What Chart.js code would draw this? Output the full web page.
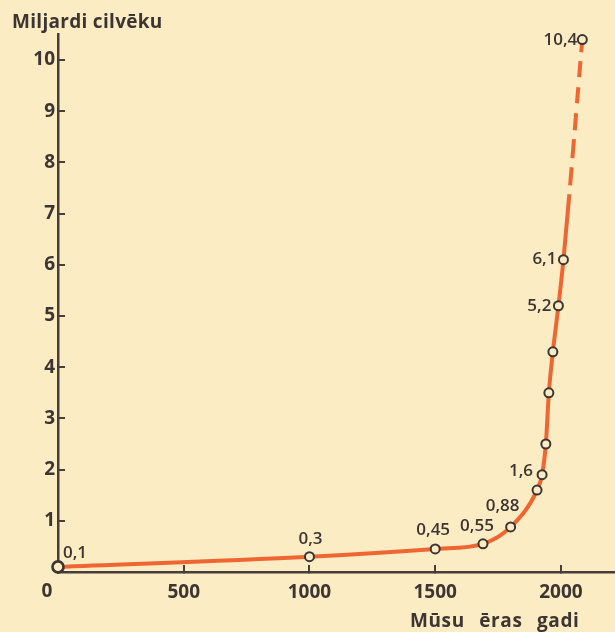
<!DOCTYPE html>
<html>
<head>
<meta charset="utf-8">
<script src="https://cdn.jsdelivr.net/npm/chart.js@4.4.1/dist/chart.umd.min.js"></script>
<style>
  html, body { margin: 0; padding: 0; background: #fbecc4; }
  #wrap { width: 615px; height: 632px; position: relative; }
</style>
</head>
<body>
<div id="wrap"><canvas id="c" width="615" height="632"></canvas></div>
<script>
// World population, billions of people, by year of the Common Era
const years = [0, 1000, 1500, 1690, 1800, 1905, 1925, 1940, 1952, 1968, 1990, 2010, 2085];
const population = [0.1, 0.3, 0.45, 0.55, 0.88, 1.6, 1.9, 2.5, 3.5, 4.3, 5.2, 6.1, 10.4];
const pointNotes = ['0,1', '0,3', '0,45', '0,55', '0,88', '1,6', '', '', '', '', '5,2', '6,1', '10,4'];
const xTicks = [0, 500, 1000, 1500, 2000];
const yTicks = [0, 1, 2, 3, 4, 5, 6, 7, 8, 9, 10];
const yTitle = 'Miljardi cilvēku';
const xTitle = 'Mūsu ēras gadi';

const PAPER = '#fbecc4';
const INK = '#3d3532';
const AXIS = '#473d39';
const ORANGE = '#ef6632';
const FONT = '"Open Sans", "DejaVu Sans", sans-serif';

// where each note sits relative to its circle
const notePlacement = {
  0: { align: 'left', dx: 5, dy: -14 },
  1: { align: 'center', dx: 1, dy: -17 },
  2: { align: 'center', dx: -2, dy: -19 },
  3: { align: 'center', dx: -6, dy: -18 },
  4: { align: 'center', dx: -8, dy: -21 },
  5: { align: 'right', dx: -4, dy: -19 },
  10: { align: 'right', dx: -7, dy: 0 },
  11: { align: 'right', dx: -7, dy: -1 },
  12: { align: 'right', dx: -5, dy: 1 }
};

// the forecast stretch: a solid run, then dashes
const forecastDash = [66, 9, 18, 9, 19, 9, 17, 10, 16, 10, 16, 9, 16, 40];
const lastIndex = years.length - 1;

const paperPlugin = {
  id: 'paper',
  beforeDraw(chart) {
    const c = chart.ctx;
    c.save();
    c.fillStyle = PAPER;
    c.fillRect(0, 0, chart.width, chart.height);
    c.restore();
  }
};

const notesPlugin = {
  id: 'notes',
  afterDatasetsDraw(chart) {
    const meta = chart.getDatasetMeta(0);
    const c = chart.ctx;
    c.save();
    c.font = '600 17px ' + FONT;
    c.fillStyle = INK;
    c.textBaseline = 'middle';
    pointNotes.forEach((txt, i) => {
      if (!txt) return;
      const p = meta.data[i];
      const pl = notePlacement[i];
      c.textAlign = pl.align;
      c.fillText(txt, p.x + pl.dx, p.y + pl.dy);
    });
    c.restore();
  },
  afterDraw(chart) {
    const c = chart.ctx;
    const xs = chart.scales.x;
    c.save();
    c.fillStyle = INK;
    c.textBaseline = 'alphabetic';
    c.textAlign = 'left';
    c.font = '700 19px ' + FONT;
    c.letterSpacing = '0.3px';
    c.fillText(yTitle, 12, 28);
    c.letterSpacing = '0.6px';
    c.wordSpacing = '9px';
    c.fillText(xTitle, 410, 627);
    c.letterSpacing = '0px';
    c.wordSpacing = '0px';
    // origin label, set off to the left of the vertical axis
    c.textAlign = 'center';
    c.fillText('0', xs.getPixelForValue(0) - 11, 597);
    c.restore();
  }
};

new Chart(document.getElementById('c'), {
  type: 'line',
  data: {
    datasets: [{
      data: years.map((y, i) => ({ x: y, y: population[i] })),
      borderColor: ORANGE,
      borderWidth: 4,
      borderCapStyle: 'butt',
      borderJoinStyle: 'round',
      cubicInterpolationMode: 'monotone',
      fill: false,
      clip: false,
      pointRadius: ctx => ctx.dataIndex === 0 ? 5.5 : 4.5,
      pointBorderWidth: ctx => ctx.dataIndex === 0 ? 2.6 : 2,
      pointBorderColor: INK,
      pointBackgroundColor: PAPER,
      segment: {
        borderDash: ctx => ctx.p1DataIndex === lastIndex ? forecastDash : undefined
      }
    }]
  },
  options: {
    responsive: false,
    animation: false,
    events: [],
    layout: { autoPadding: false, padding: { top: 34.4, right: 0, left: 0, bottom: 0 } },
    plugins: { legend: { display: false }, tooltip: { enabled: false } },
    scales: {
      x: {
        type: 'linear',
        min: 0,
        max: 2215,
        afterFit: s => { s.height = 60; s.paddingLeft = 0; s.paddingRight = 0; },
        afterBuildTicks: s => { s.ticks = xTicks.map(v => ({ value: v })); },
        border: { display: true, color: AXIS, width: 2.5 },
        grid: { drawOnChartArea: false, drawTicks: true, tickLength: -7, color: AXIS, lineWidth: 2 },
        ticks: {
          color: INK,
          font: { family: FONT, size: 19, weight: '700' },
          padding: 16,
          maxRotation: 0,
          callback: v => v === 0 ? '' : String(v)
        }
      },
      y: {
        type: 'linear',
        min: 0,
        max: 10.5,
        afterFit: s => { s.width = 58; s.paddingTop = 0; s.paddingBottom = 0; },
        afterBuildTicks: s => { s.ticks = yTicks.map(v => ({ value: v })); },
        border: { display: true, color: AXIS, width: 2.5 },
        grid: { drawOnChartArea: false, drawTicks: true, tickLength: -7, color: AXIS, lineWidth: 2 },
        ticks: {
          color: INK,
          font: { family: FONT, size: 19, weight: '700' },
          padding: 10,
          callback: v => v === 0 ? '' : String(v)
        }
      }
    }
  },
  plugins: [paperPlugin, notesPlugin]
});
</script>
</body>
</html>
